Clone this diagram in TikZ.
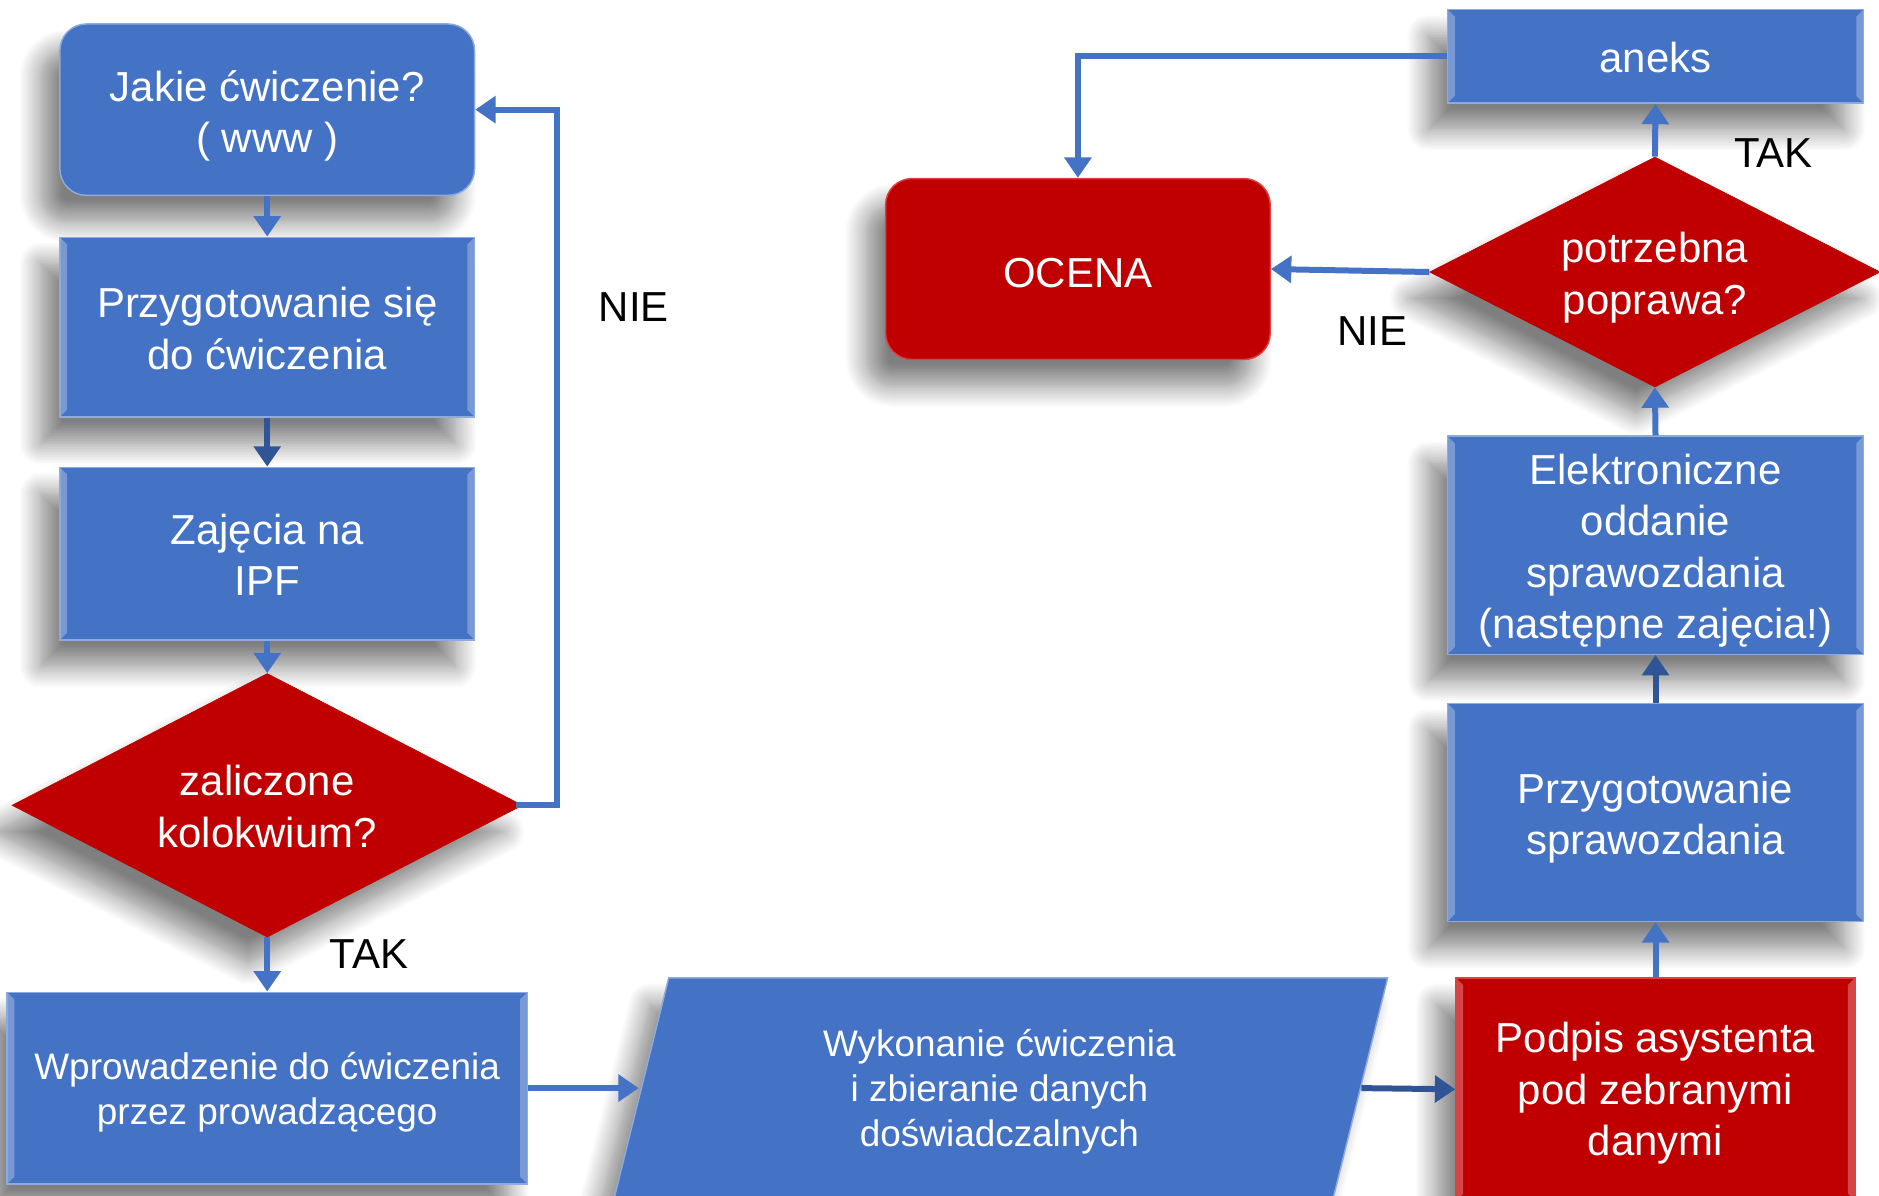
\documentclass[tikz,border=0pt]{standalone}
\usepackage{fontspec}
\setmainfont{Liberation Sans}
\usetikzlibrary{shapes.geometric,shadows.blur,arrows.meta,calc}
\definecolor{pblue}{HTML}{4472C4}
\definecolor{pred}{HTML}{C00000}
\definecolor{dblue}{HTML}{2F5597}
\definecolor{bblue}{HTML}{8FAADC}
\definecolor{bred}{HTML}{E04040}
\newcommand{\mt}[2]{\raisebox{-#1}[\height][\depth]{\begin{tabular}{@{}c@{}}#2\end{tabular}}}
\begin{document}
\begin{tikzpicture}[x=1pt,y=-1pt,
  shad/.style={blur shadow={shadow xshift=-16pt,shadow yshift=-22pt,shadow blur radius=18pt,shadow opacity=50,shadow blur steps=14}},
  bevel/.style={path picture={
    \fill[white,opacity=0.28] (path picture bounding box.north west) -- ++(6,6)
      -- ($(path picture bounding box.south west)+(6,-6)$) -- (path picture bounding box.south west) -- cycle;
    \fill[white,opacity=0.28] (path picture bounding box.north east) -- ++(-6,6)
      -- ($(path picture bounding box.south east)+(-6,-6)$) -- (path picture bounding box.south east) -- cycle;}},
  txt/.style={text=white, align=center, inner sep=0pt, font=\fontsize{35}{43}\selectfont},
  base/.style={shad, txt},
  box/.style={base, bevel, rectangle, fill=pblue, draw=bblue, line width=1.2pt},
  rbox/.style={base, rectangle, rounded corners=22pt, fill=pblue, draw=bblue, line width=1.2pt},
  redbox/.style={base, bevel, rectangle, fill=pred, draw=bred, line width=1.2pt},
  redrbox/.style={base, rectangle, rounded corners=22pt, fill=pred, draw=bred, line width=1.2pt},
  reddia/.style={base, diamond, aspect=2, fill=pred, draw=pred, line width=0.5pt},
  lbl/.style={text=black, inner sep=0pt, font=\fontsize{35}{43}\selectfont},
  small/.style={font=\fontsize{30.8}{37.5}\selectfont},
  conn/.style={draw=pblue, line width=5pt, -{Triangle[width=22pt,length=17pt]}},
  dconn/.style={draw=dblue, line width=5pt, -{Triangle[width=22pt,length=17pt]}}
]
\useasboundingbox (0,0) rectangle (1568,998);

% left column
\node[rbox, minimum width=346pt, minimum height=143pt] (jakie) at (223,91.5) {\mt{6pt}{Jakie ćwiczenie?\\( www )}};
\node[box, minimum width=346pt, minimum height=150pt] (przyg) at (223,273) {\mt{5pt}{Przygotowanie się\\do ćwiczenia}};
\node[box, minimum width=346pt, minimum height=144pt] (zaj) at (223,462) {\mt{5pt}{Zajęcia na\\IPF}};
\node[reddia, minimum width=426pt, minimum height=220pt] (zal) at (223,672) {\mt{5pt}{zaliczone\\kolokwium?}};
\node[box, small, minimum width=434pt, minimum height=160pt] (wpr) at (223,908) {\mt{4pt}{Wprowadzenie do ćwiczenia\\przez prowadzącego}};

% parallelogram
\path[shad, fill=pblue, draw=bblue, line width=1.2pt] (558,816) -- (1158,816) -- (1112,1002) -- (512,1002) -- cycle;
\node[txt, small] (wyk) at (834,909) {\mt{3pt}{Wykonanie ćwiczenia\\i zbieranie danych\\doświadczalnych}};
\coordinate (wykL) at (533,908);
\coordinate (wykR) at (1136,908);

% right column
\node[redbox, minimum width=333pt, minimum height=186pt] (podpis) at (1381.5,909) {\mt{4pt}{Podpis asystenta\\pod zebranymi\\danymi}};
\node[box, minimum width=347pt, minimum height=182pt] (prspr) at (1381.5,678) {\mt{5pt}{Przygotowanie\\sprawozdania}};
\node[box, minimum width=347pt, minimum height=182pt] (elek) at (1381.5,455) {\mt{5pt}{Elektroniczne\\oddanie\\sprawozdania\\(następne zajęcia!)}};
\node[reddia, minimum width=376pt, minimum height=192pt] (potrz) at (1381,227) {\mt{5pt}{potrzebna\\poprawa?}};
\node[box, minimum width=347pt, minimum height=78pt] (aneks) at (1381.5,47) {\mt{5pt}{aneks}};
\node[redrbox, minimum width=321pt, minimum height=151pt] (ocena) at (899.5,224.5) {\mt{7pt}{OCENA}};

% labels
\node[lbl] (nie1) at (529,256) {NIE};
\node[lbl] (tak1) at (308,796) {TAK};
\node[lbl] (tak2) at (1480,128) {TAK};
\node[lbl] (nie2) at (1145,276) {NIE};

% connectors
\coordinate (loop) at (465,672);
\draw[conn] (jakie.south) -- (przyg.north);
\draw[dconn] (przyg.south) -- (zaj.north);
\draw[conn] (zaj.south) -- (zal.north);
\draw[conn] ([xshift=-6pt]zal.east) -- (loop) |- (jakie.east);
\draw[conn] (zal.south) -- (wpr.north);
\draw[conn] (wpr.east) -- (wykL);
\draw[dconn] (wykR) -- (podpis.west);
\draw[conn] (podpis.north) -- (prspr.south);
\draw[dconn] (prspr.north) -- (elek.south);
\draw[conn] (elek.north) -- (potrz.south);
\draw[conn] (potrz.north) -- (aneks.south);
\draw[conn] (potrz.west) -- (ocena.east);
\draw[conn] (aneks.west) -| (ocena.north);
\end{tikzpicture}
\end{document}
